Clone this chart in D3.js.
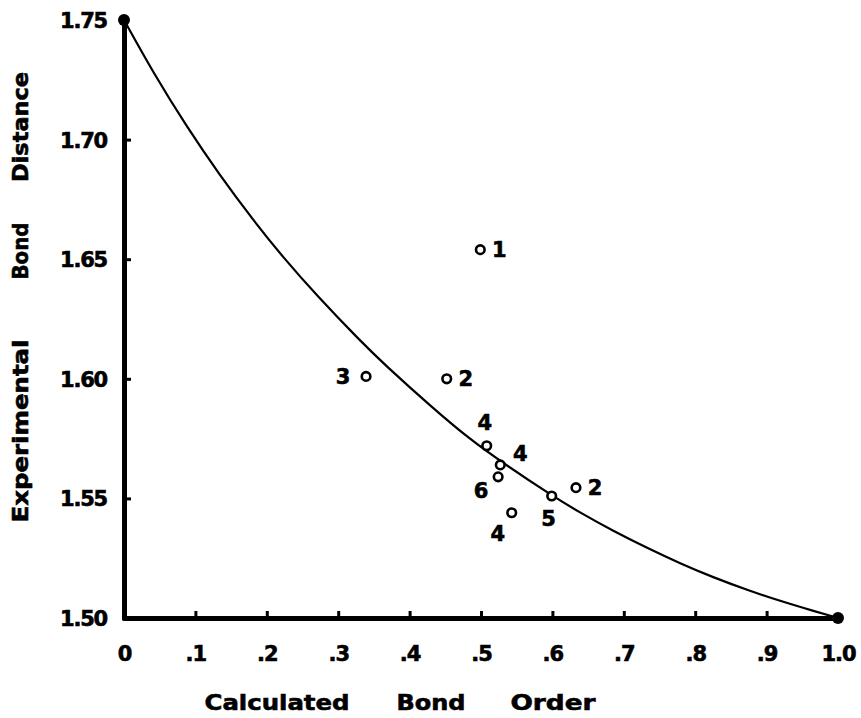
<!DOCTYPE html>
<html>
<head>
<meta charset="utf-8">
<script src="https://cdn.jsdelivr.net/npm/d3@7"></script>
<style>
  body { margin: 0; background: #fff; }
  svg text { font-family: "DejaVu Sans", sans-serif; font-weight: bold; fill: #000; stroke: #000; stroke-width: 0.6px; }
</style>
</head>
<body>
<div id="chart"></div>
<script>
const xTicks = [0, 0.1, 0.2, 0.3, 0.4, 0.5, 0.6, 0.7, 0.8, 0.9, 1.0];
const xTickLabels = ['0', '.1', '.2', '.3', '.4', '.5', '.6', '.7', '.8', '.9', '1.0'];
const yTicks = [1.50, 1.55, 1.60, 1.65, 1.70, 1.75];
const yTickLabels = ['1.50', '1.55', '1.60', '1.65', '1.70', '1.75'];

// the drawn curve (traced, smoothed by eye)
const curveX = [0, 0.041, 0.088, 0.134, 0.181, 0.223, 0.270, 0.331, 0.363, 0.433, 0.485, 0.527, 0.599, 0.639, 0.685, 0.733, 0.779, 0.825, 0.873, 0.919, 0.965, 1.0];
const curveY = [1.750, 1.7279, 1.7053, 1.6851, 1.6663, 1.6507, 1.6348, 1.6158, 1.6065, 1.5876, 1.5746, 1.5656, 1.5512, 1.5440, 1.5364, 1.5292, 1.5228, 1.5170, 1.5117, 1.5071, 1.5030, 1.500];

// experimental points
const ptX = [0.499, 0.339, 0.452, 0.508, 0.527, 0.524, 0.543, 0.599, 0.633];
const ptY = [1.654, 1.601, 1.600, 1.572, 1.564, 1.559, 1.544, 1.551, 1.5545];
const ptLabel = ['1', '3', '2', '4', '4', '6', '4', '5', '2'];
const ptPlace = ['right', 'left', 'right', 'above', 'upright', 'downleft', 'belowleft', 'below', 'right'];

// end points of the curve
const endX = [0, 1.0];
const endY = [1.75, 1.50];

const W = 861, H = 718;
const margin = { top: 20, right: 23, bottom: 100, left: 124 };
const width = W - margin.left - margin.right;
const height = H - margin.top - margin.bottom;

const svg = d3.select('#chart').append('svg')
  .attr('width', W)
  .attr('height', H);
const g = svg.append('g')
  .attr('transform', 'translate(' + margin.left + ',' + margin.top + ')');

const x = d3.scaleLinear().domain([0, 1]).range([0, width]);
const y = d3.scaleLinear().domain([1.50, 1.75]).range([height, 0]);

// axes
const xAxis = g.append('g')
  .attr('transform', 'translate(0,' + height + ')')
  .call(d3.axisBottom(x).tickValues(xTicks).tickSize(-7).tickSizeOuter(0)
    .tickFormat((d, i) => xTickLabels[i]));
xAxis.selectAll('text')
  .attr('y', 35).attr('dy', '0.36em')
  .style('font-size', '21px').style('letter-spacing', '-1px');

const yAxis = g.append('g')
  .call(d3.axisLeft(y).tickValues(yTicks).tickSize(-7).tickSizeOuter(0)
    .tickFormat((d, i) => yTickLabels[i]));
yAxis.selectAll('text')
  .attr('x', -17).attr('dy', '0.36em')
  .style('font-size', '21px').style('letter-spacing', '-1.2px');

g.selectAll('.domain')
  .attr('stroke', '#000').attr('stroke-width', 5).attr('stroke-linecap', 'round');
g.selectAll('.tick line')
  .attr('stroke', '#000').attr('stroke-width', 3);
xAxis.selectAll('.tick').filter((d, i) => i === 0 || i === xTicks.length - 1).select('line').remove();
yAxis.selectAll('.tick').filter((d, i) => i === 0 || i === yTicks.length - 1).select('line').remove();

// curve
const line = d3.line()
  .x(d => x(d[0]))
  .y(d => y(d[1]))
  .curve(d3.curveBasis);
g.append('path')
  .datum(curveX.map((v, i) => [v, curveY[i]]))
  .attr('d', line)
  .attr('fill', 'none')
  .attr('stroke', '#000')
  .attr('stroke-width', 2.2);

// end dots
g.selectAll('.end')
  .data(endX)
  .enter()
  .append('circle')
  .attr('class', 'end')
  .attr('cx', d => x(d))
  .attr('cy', (d, i) => y(endY[i]))
  .attr('r', 6)
  .attr('fill', '#000');

// points
const pts = g.selectAll('.pt')
  .data(ptX)
  .enter()
  .append('g')
  .attr('class', 'pt');
pts.append('circle')
  .attr('cx', d => x(d))
  .attr('cy', (d, i) => y(ptY[i]))
  .attr('r', 4.3)
  .attr('fill', '#fff')
  .attr('stroke', '#000')
  .attr('stroke-width', 2.6);

const offs = {
  right: [19, 0], left: [-23, 0], above: [-2, -23], upright: [20, -11],
  downleft: [-17, 14], belowleft: [-14, 21], below: [-3, 22]
};
pts.append('text')
  .attr('x', (d, i) => x(d) + offs[ptPlace[i]][0])
  .attr('y', (d, i) => y(ptY[i]) + offs[ptPlace[i]][1])
  .attr('dy', '0.36em')
  .attr('text-anchor', 'middle')
  .style('font-size', '21px')
  .text((d, i) => ptLabel[i]);

// axis titles
const xWords = [['Calculated', 277, 145], ['Bond', 431, 69], ['Order', 553, 85]];
svg.selectAll('.xt')
  .data(xWords)
  .enter()
  .append('text')
  .attr('class', 'xt')
  .attr('x', d => d[1] - d[2] / 2)
  .attr('y', 710)
  .attr('textLength', d => d[2])
  .attr('lengthAdjust', 'spacingAndGlyphs')
  .style('font-size', '22px')
  .text(d => d[0]);

const yWords = [['Experimental', 431, 183], ['Bond', 251, 57], ['Distance', 127, 110]];
svg.selectAll('.yt')
  .data(yWords)
  .enter()
  .append('text')
  .attr('class', 'yt')
  .attr('transform', d => 'translate(28,' + (d[1] + d[2] / 2) + ') rotate(-90)')
  .attr('textLength', d => d[2])
  .attr('lengthAdjust', 'spacingAndGlyphs')
  .style('font-size', '21px')
  .text(d => d[0]);
</script>
</body>
</html>
